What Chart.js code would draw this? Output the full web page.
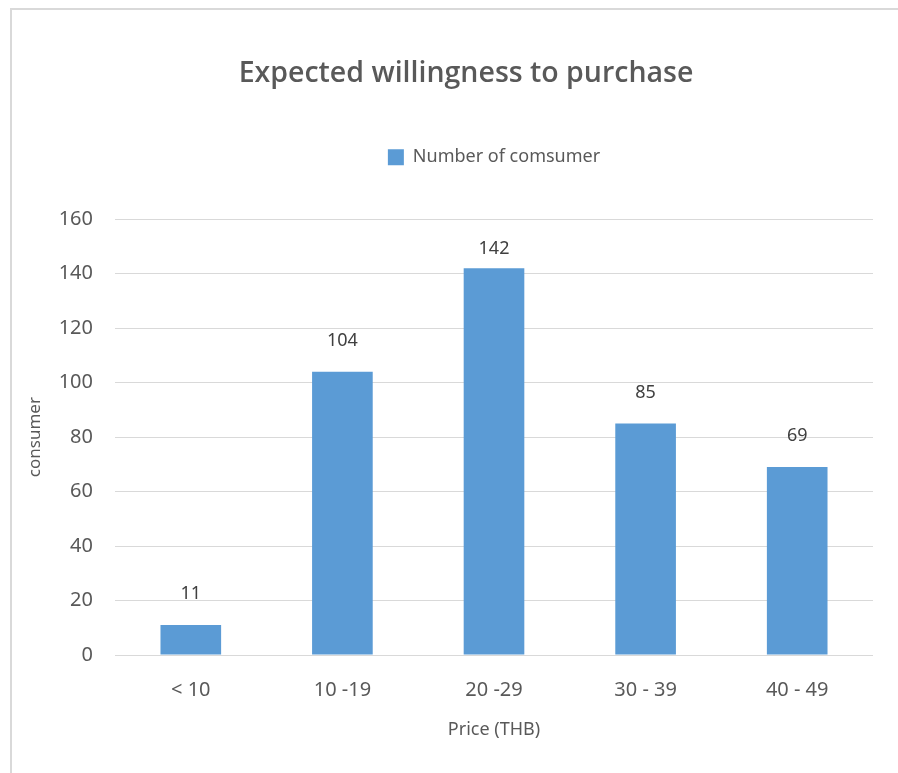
<!DOCTYPE html>
<html>
<head>
<meta charset="utf-8">
<script src="https://cdn.jsdelivr.net/npm/chart.js@4.4.0/dist/chart.umd.min.js"></script>
<style>
  html, body { margin: 0; padding: 0; background: #fff; overflow: hidden; }
  #frame { position: absolute; left: 10px; top: 8px; width: 920px; height: 800px; border: 2px solid #d9d9d9; box-sizing: border-box; }
  #wrap { position: absolute; left: 0; top: 0; width: 898px; height: 773px; }
</style>
</head>
<body>
<div id="frame"></div>
<div id="wrap"><canvas id="grafico"></canvas></div>
<script>
// dados do gráfico
const categorias = ['< 10', '10 -19', '20 -29', '30 - 39', '40 - 49'];
const consumidores = [11, 104, 142, 85, 69];
const ticksY = [0, 20, 40, 60, 80, 100, 120, 140, 160];

const corTexto = '#595959';
const fonte = '"Noto Sans", "Open Sans", sans-serif';

// escreve o valor em cima de cada barra
const rotulos = {
  id: 'rotulos',
  afterDatasetsDraw(chart) {
    const ctx = chart.ctx;
    const meta = chart.getDatasetMeta(0);
    ctx.save();
    ctx.font = '18px ' + fonte;
    ctx.fillStyle = '#404040';
    ctx.textAlign = 'center';
    ctx.textBaseline = 'middle';
    meta.data.forEach((bar, i) => {
      const y = Math.max(bar.y - 31, chart.chartArea.top + 30);
      ctx.fillText(String(consumidores[i]), bar.x, y);
    });
    ctx.restore();
  }
};

// espaço entre a legenda e o gráfico
const espaco = {
  id: 'espaco',
  beforeInit(chart) {
    Chart.layouts.addBox(chart, {
      position: 'top',
      weight: 500,
      fullSize: false,
      options: {},
      left: 0, top: 0, right: 0, bottom: 0, width: 0, height: 0,
      isHorizontal() { return true; },
      update(maxWidth) { this.width = maxWidth; this.height = 43; },
      draw() {}
    });
  }
};

const ctx = document.getElementById('grafico').getContext('2d');

const meuGrafico = new Chart(ctx, {
  type: 'bar',
  data: {
    labels: categorias,
    datasets: [{
      label: 'Number of comsumer',
      data: consumidores,
      backgroundColor: '#5b9bd5',
      borderWidth: 0,
      categoryPercentage: 1,
      barPercentage: 0.4
    }]
  },
  options: {
    responsive: true,
    maintainAspectRatio: false,
    animation: false,
    layout: { padding: { left: 59, right: 25, top: 47, bottom: 28 } },
    plugins: {
      title: {
        display: true,
        text: 'Expected willingness to purchase',
        color: corTexto,
        font: { family: '"Open Sans", "Noto Sans", sans-serif', size: 28.5, weight: '600' },
        padding: { top: 10, bottom: 47 }
      },
      legend: {
        display: true,
        fullSize: false,
        labels: {
          color: corTexto,
          font: { family: fonte, size: 18 },
          boxWidth: 16,
          boxHeight: 16,
          padding: 10
        }
      },
      tooltip: { enabled: false }
    },
    scales: {
      x: {
        grid: { display: false },
        border: { display: false },
        ticks: { color: corTexto, font: { family: fonte, size: 20 }, padding: 15 },
        title: {
          display: true,
          text: 'Price (THB)',
          color: corTexto,
          font: { family: fonte, size: 18 },
          padding: { top: 4, bottom: 4 }
        },
        afterFit(scale) { scale.height = 90; }
      },
      y: {
        min: 0,
        max: 160,
        afterBuildTicks(scale) { scale.ticks = ticksY.map(v => ({ value: v })); },
        grid: { color: '#d9d9d9', lineWidth: 1, drawTicks: false },
        border: { display: false },
        ticks: { color: corTexto, font: { family: fonte, size: 20 }, padding: 22 },
        title: {
          display: true,
          text: 'consumer',
          color: corTexto,
          font: { family: fonte, size: 17 },
          padding: { top: -34, bottom: 0 }
        },
        afterFit(scale) { scale.width = 56; }
      }
    }
  },
  plugins: [rotulos, espaco]
});
</script>
</body>
</html>
